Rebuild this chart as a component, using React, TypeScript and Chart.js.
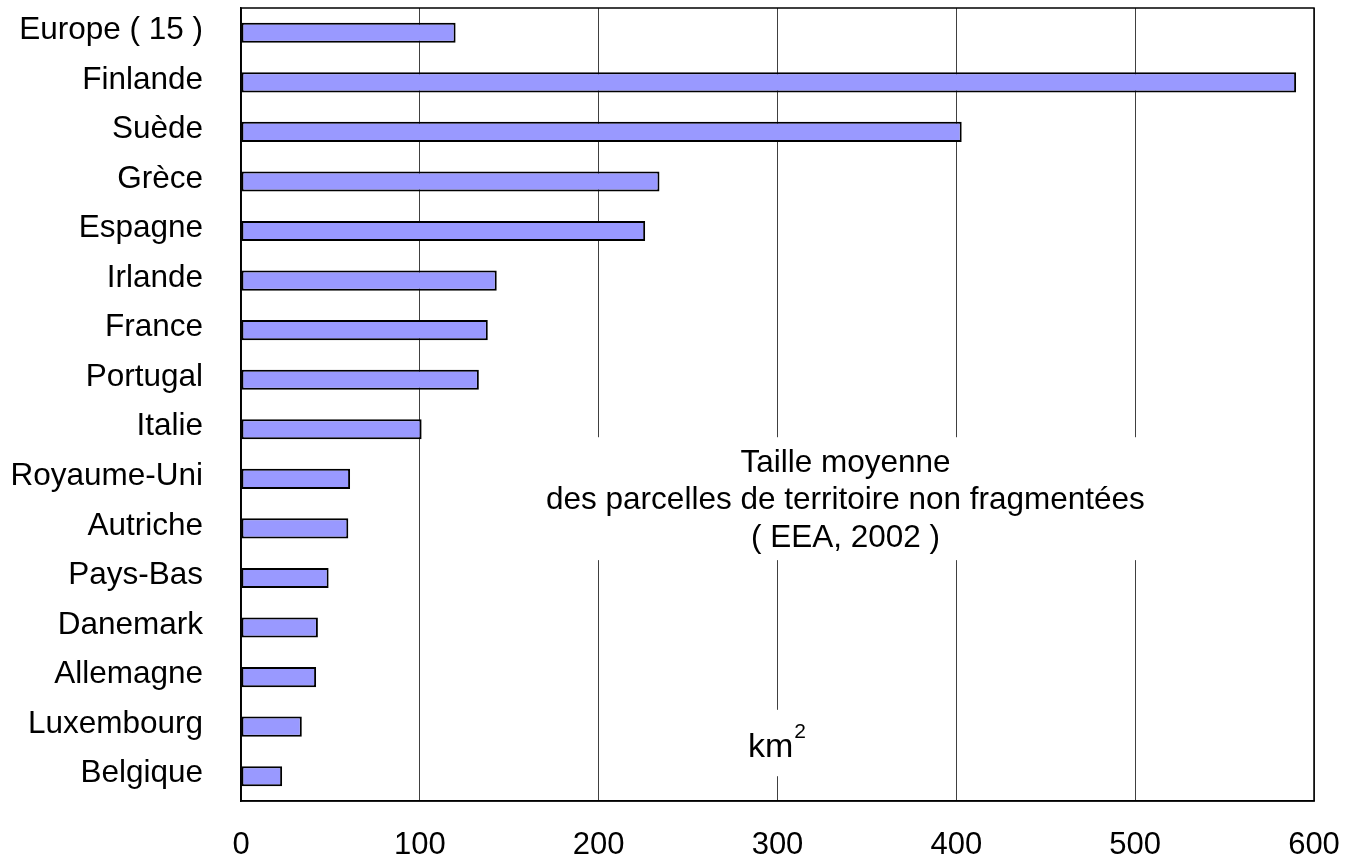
import React, { useEffect, useRef } from 'react';
import { Chart, registerables } from 'chart.js';

Chart.register(...registerables);

const categories = [
  'Europe ( 15 )',
  'Finlande',
  'Suède',
  'Grèce',
  'Espagne',
  'Irlande',
  'France',
  'Portugal',
  'Italie',
  'Royaume-Uni',
  'Autriche',
  'Pays-Bas',
  'Danemark',
  'Allemagne',
  'Luxembourg',
  'Belgique',
];
const values = [120, 590, 403, 234, 226, 143, 138, 133, 101, 61, 60, 49, 43, 42, 34, 23];
const xTickValues = [0, 100, 200, 300, 400, 500, 600];
const titleLines = ['Taille moyenne', 'des parcelles de territoire non fragmentées', '( EEA, 2002 )'];
const unitText = 'km';
const unitExponent = '2';

const FONT = "'Liberation Sans', Arial, sans-serif";

const annotationPlugin = {
  id: 'annotations',
  afterDatasetsDraw(chart: any) {
    const { ctx, chartArea: a, scales } = chart;
    const xs = scales.x;
    const ys = scales.y;
    ctx.save();
    // frame
    ctx.strokeStyle = '#000';
    ctx.lineWidth = 1.5;
    ctx.strokeRect(a.left, a.top, a.right - a.left, a.bottom - a.top);

    // title box
    const bx1 = xs.getPixelForValue(166);
    const bx2 = xs.getPixelForValue(508);
    const by1 = ys.getPixelForValue(8.16);
    const by2 = ys.getPixelForValue(10.64);
    ctx.fillStyle = '#fff';
    ctx.fillRect(bx1, by1, bx2 - bx1, by2 - by1);
    ctx.fillStyle = '#000';
    ctx.font = `31.5px ${FONT}`;
    ctx.textAlign = 'center';
    ctx.textBaseline = 'alphabetic';
    const cx = xs.getPixelForValue(338);
    const base = ys.getPixelForValue(8.86);
    titleLines.forEach((line, i) => {
      ctx.fillText(line, cx, base + i * 37.5);
    });

    // unit box
    const ux1 = xs.getPixelForValue(276);
    const ux2 = xs.getPixelForValue(323);
    const uy1 = ys.getPixelForValue(13.66);
    const uy2 = ys.getPixelForValue(15.0);
    ctx.fillStyle = '#fff';
    ctx.fillRect(ux1, uy1, ux2 - ux1, uy2 - uy1);
    ctx.fillStyle = '#000';
    ctx.textAlign = 'left';
    ctx.font = `34px ${FONT}`;
    const kx = xs.getPixelForValue(283.5);
    const ky = ys.getPixelForValue(14.61);
    ctx.fillText(unitText, kx, ky);
    const kw = ctx.measureText(unitText).width;
    ctx.font = `21px ${FONT}`;
    ctx.fillText(unitExponent, kx + kw + 1, ys.getPixelForValue(14.23));
    ctx.restore();
  },
};

export default function App() {
  const canvasRef = useRef<HTMLCanvasElement | null>(null);

  useEffect(() => {
    const canvas = canvasRef.current;
    if (!canvas) return;
    const chart = new Chart(canvas, {
      type: 'bar',
      data: {
        labels: categories,
        datasets: [
          {
            data: values,
            backgroundColor: '#9999FF',
            borderColor: '#000000',
            borderWidth: 2,
            borderSkipped: false,
            categoryPercentage: 1,
            barPercentage: 0.405,
          },
        ],
      },
      options: {
        indexAxis: 'y',
        responsive: false,
        animation: false,
        devicePixelRatio: 1,
        layout: { padding: { top: 8, right: 32, left: 0, bottom: 0 } },
        plugins: {
          legend: { display: false },
          tooltip: { enabled: false },
          title: { display: false },
        },
        scales: {
          x: {
            type: 'linear',
            min: 0,
            max: 600,
            afterBuildTicks: (scale: any) => {
              scale.ticks = xTickValues.map((v) => ({ value: v }));
            },
            afterFit: (scale: any) => {
              scale.height = 59;
              scale.paddingLeft = 0;
              scale.paddingRight = 0;
            },
            ticks: {
              color: '#000',
              font: { family: FONT, size: 31 },
              padding: 26,
              maxRotation: 0,
            },
            grid: { color: '#404040', lineWidth: 1, drawTicks: false },
            border: { display: true, color: '#000', width: 1.5 },
          },
          y: {
            type: 'category',
            afterFit: (scale: any) => {
              scale.width = 241;
              scale.paddingTop = 0;
              scale.paddingBottom = 0;
            },
            ticks: {
              color: '#000',
              font: { family: FONT, size: 31.5 },
              padding: 38,
              labelOffset: (ctx: any) => -2.5 - (ctx.index || 0) * 0.37,
              autoSkip: false,
            },
            grid: { display: false, drawTicks: false },
            border: { display: true, color: '#000', width: 1.5 },
          },
        },
      },
      plugins: [annotationPlugin],
    });
    return () => chart.destroy();
  }, []);

  return (
    <div style={{ position: 'absolute', left: 0, top: 0, width: 1346, height: 860, background: '#fff' }}>
      <canvas ref={canvasRef} width={1346} height={860} style={{ display: 'block' }} />
    </div>
  );
}
